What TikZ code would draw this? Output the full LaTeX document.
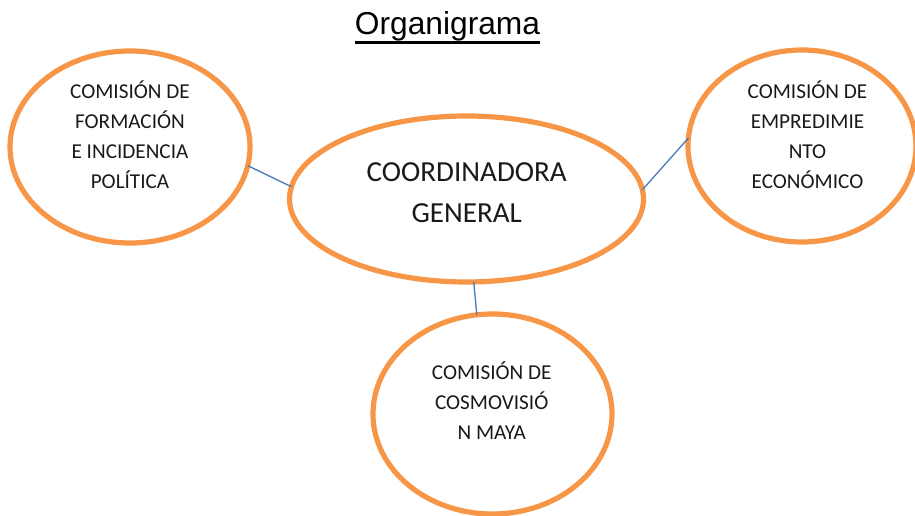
\documentclass[tikz,border=0pt]{standalone}
\usepackage{fontspec}
\setmainfont{Carlito}
\newfontfamily\titlefont{Liberation Sans}
\usetikzlibrary{shapes.geometric}
\definecolor{orgorange}{HTML}{F79646}
\definecolor{orgblue}{HTML}{4A7EBB}
\newcommand\thickunderline[1]{\setbox0\hbox{#1}\rlap{\rule[-6.6pt]{\wd0}{2.1pt}}\box0}
\begin{document}
\begin{tikzpicture}[x=0.75pt,y=-0.75pt,
  oval/.style={ellipse,draw=orgorange,line width=3.9pt,inner sep=0pt,outer sep=0pt},
  smalltext/.style={align=center,font=\fontsize{15.9}{22.5}\selectfont,text=black!90},
  bigtext/.style={align=center,font=\fontsize{21.8}{31}\selectfont,text=black!90},
  link/.style={draw=orgblue,line width=1pt}]
\useasboundingbox (0,0) rectangle (915,516);
\node[anchor=base,font=\titlefont\fontsize{23.8}{28}\selectfont,inner sep=0pt] (title) at (447.5,35) {\thickunderline{Organigrama}};
\node[oval,minimum width=180pt,minimum height=144pt] (L) at (130,147) {};
\node[oval,minimum width=171pt,minimum height=144pt] (R) at (802,146) {};
\node[oval,minimum width=265.5pt,minimum height=124.5pt] (C) at (466.5,199) {};
\node[oval,minimum width=179.25pt,minimum height=150pt] (B) at (492.5,414) {};
\node[smalltext] (Lt) at (130,135) {COMISIÓN DE\\FORMACIÓN\\E INCIDENCIA\\POLÍTICA};
\node[smalltext] (Rt) at (807.5,135) {COMISIÓN DE\\EMPREDIMIE\\NTO\\ECONÓMICO};
\node[bigtext] (Ct) at (466.7,193) {COORDINADORA\\GENERAL};
\node[smalltext] (Bt) at (491.7,401) {COMISIÓN DE\\COSMOVISIÓ\\N MAYA};
\draw[link] (L.-9.6) -- (C.176.9);
\draw[link] (C.3.2) -- (R.176.4);
\draw[link] (C.-85.6) -- (B.99.5);
\end{tikzpicture}
\end{document}
